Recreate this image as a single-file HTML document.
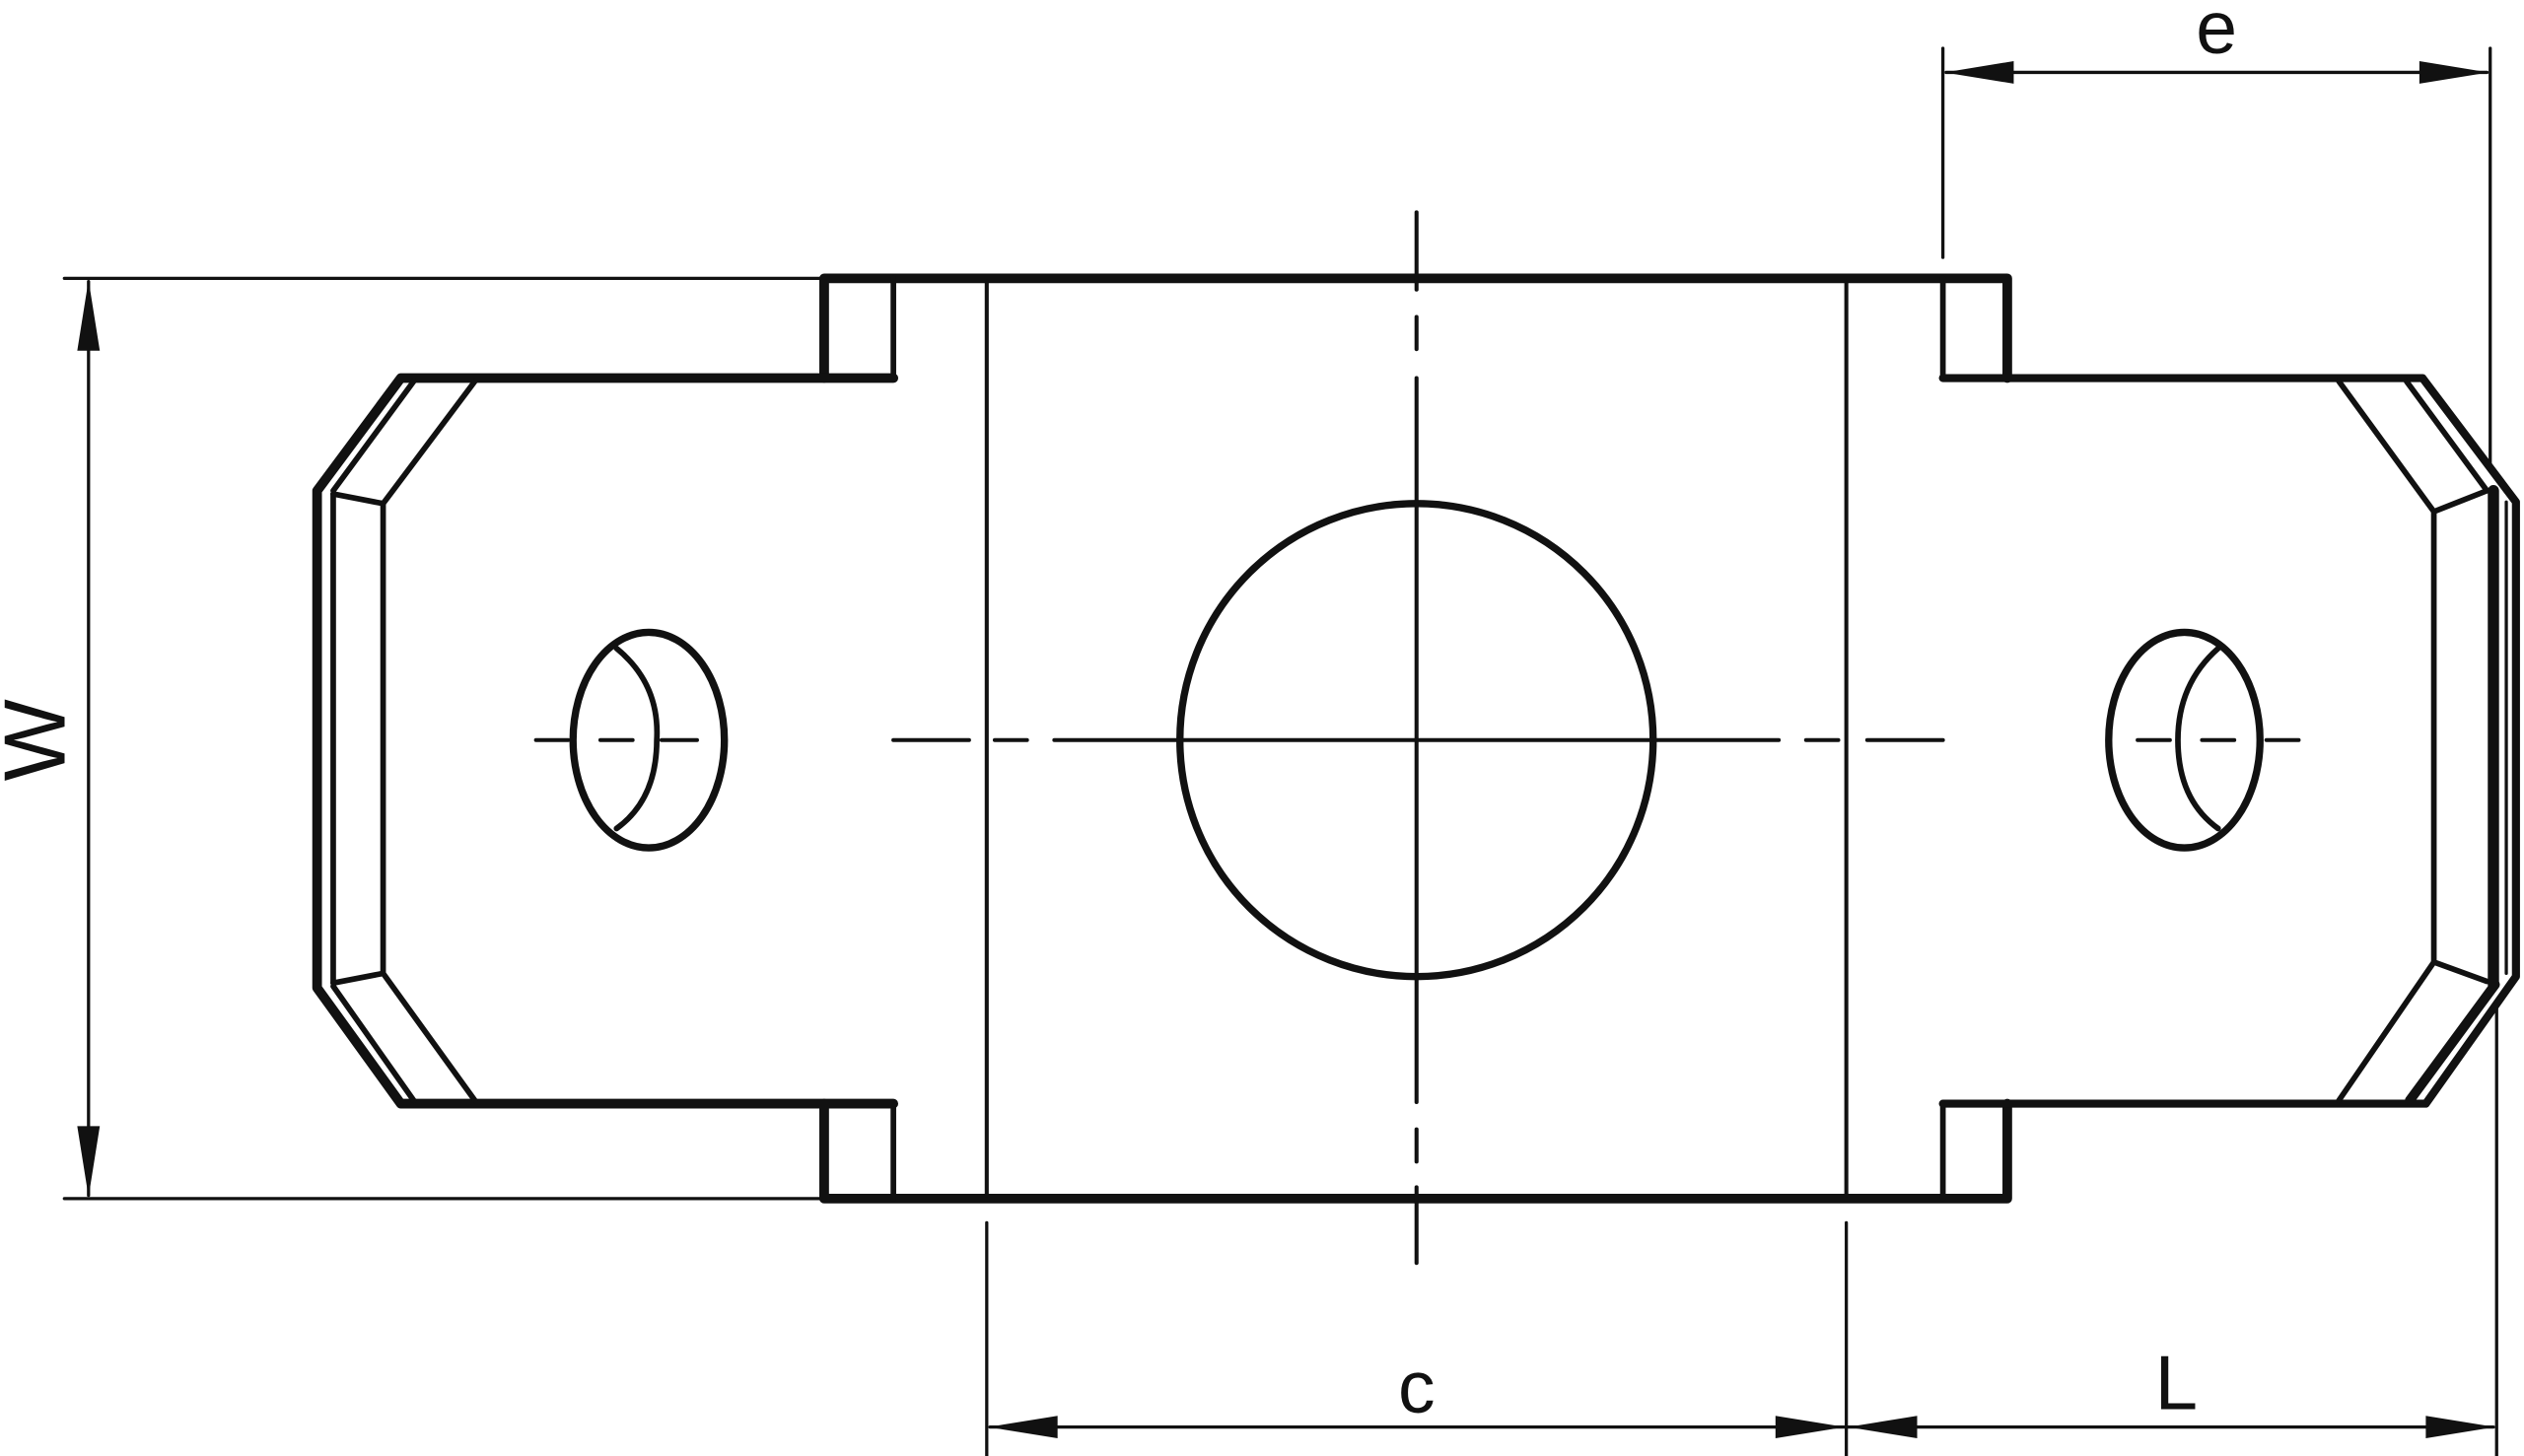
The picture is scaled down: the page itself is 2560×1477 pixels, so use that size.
<!DOCTYPE html>
<html><head><style>
html,body{margin:0;padding:0;background:#fff;}
svg{display:block;}
text{font-family:"Liberation Sans",sans-serif;fill:#111;}
</style></head><body>
<svg width="2560" height="1477" viewBox="0 0 1568 905" preserveAspectRatio="none" xmlns="http://www.w3.org/2000/svg">
<g fill="none" stroke="#111" stroke-linecap="round" stroke-linejoin="round">
<!-- W dimension -->
<line x1="40" y1="173" x2="512" y2="173" stroke-width="2"/>
<line x1="40" y1="745" x2="512" y2="745" stroke-width="2"/>
<line x1="55" y1="175" x2="55" y2="743" stroke-width="2"/>
<!-- e dimension -->
<line x1="1207" y1="30" x2="1207" y2="160" stroke-width="2"/>
<line x1="1547" y1="30" x2="1547" y2="290" stroke-width="2"/>
<line x1="1209" y1="45" x2="1545" y2="45" stroke-width="2"/>
<!-- c / L dimension -->
<line x1="613" y1="760" x2="613" y2="905" stroke-width="2"/>
<line x1="1147" y1="760" x2="1147" y2="905" stroke-width="2"/>
<line x1="1551" y1="625" x2="1551" y2="905" stroke-width="2"/>
<line x1="615" y1="887" x2="1549" y2="887" stroke-width="2"/>
<!-- main body -->
<polyline points="512,235 512,173 1247,173 1247,235" stroke-width="6"/>
<polyline points="512,686 512,745 1247,745 1247,686" stroke-width="6"/>
<polyline points="512,235 555,235 555,173" stroke-width="3.5"/>
<polyline points="512,686 555,686 555,745" stroke-width="3.5"/>
<polyline points="1247,235 1207,235 1207,173" stroke-width="3.5"/>
<polyline points="1247,686 1207,686 1207,745" stroke-width="3.5"/>
<line x1="613" y1="175" x2="613" y2="743" stroke-width="2.5"/>
<line x1="1147" y1="175" x2="1147" y2="743" stroke-width="2.5"/>
<!-- left wing -->
<polyline points="555,235 249,235 197,305 197,614 249,686 555,686" stroke-width="6"/>
<polyline points="295,237 238,313 238,605 295,684" stroke-width="3.5"/>
<line x1="207" y1="307" x2="238" y2="313" stroke-width="3.5"/>
<line x1="207" y1="611" x2="238" y2="605" stroke-width="3.5"/>
<line x1="207" y1="307" x2="207" y2="611" stroke-width="3.5"/>
<line x1="257" y1="237" x2="207" y2="305" stroke-width="3.5"/>
<line x1="257" y1="684" x2="207" y2="613" stroke-width="3.5"/>
<!-- right wing -->
<polyline points="1207,235 1505,235 1563,312 1563,607 1507,686 1207,686" stroke-width="5"/>
<line x1="1495" y1="237" x2="1545" y2="305" stroke-width="3.5"/>
<line x1="1497" y1="684" x2="1550" y2="612" stroke-width="6"/>
<polyline points="1453,237 1512,318 1512,598 1453,684" stroke-width="3.5"/>
<line x1="1512" y1="318" x2="1545" y2="305" stroke-width="3.5"/>
<line x1="1512" y1="598" x2="1545" y2="610" stroke-width="3.5"/>
<line x1="1549" y1="305" x2="1549" y2="612" stroke-width="7"/>
<line x1="1557" y1="312" x2="1557" y2="605" stroke-width="2"/>
<!-- holes -->
<circle cx="880" cy="460" r="147" stroke-width="4.5"/>
<ellipse cx="403" cy="460" rx="47" ry="67" stroke-width="4.5"/>
<path d="M383,403 Q410,425 408,460 Q408,497 383,515" stroke-width="3.5"/>
<ellipse cx="1357" cy="460" rx="47" ry="67" stroke-width="4.5"/>
<path d="M1378,403 Q1353,425 1353,460 Q1353,497 1378,515" stroke-width="3.5"/>
<!-- center lines -->
<g stroke-width="2.5">
<line x1="880" y1="132" x2="880" y2="180"/>
<line x1="880" y1="197" x2="880" y2="217"/>
<line x1="880" y1="235" x2="880" y2="685"/>
<line x1="880" y1="702" x2="880" y2="722"/>
<line x1="880" y1="738" x2="880" y2="785"/>
<line x1="333" y1="460" x2="353" y2="460"/>
<line x1="373" y1="460" x2="393" y2="460"/>
<line x1="411" y1="460" x2="433" y2="460"/>
<line x1="555" y1="460" x2="602" y2="460"/>
<line x1="618" y1="460" x2="638" y2="460"/>
<line x1="655" y1="460" x2="1105" y2="460"/>
<line x1="1122" y1="460" x2="1142" y2="460"/>
<line x1="1160" y1="460" x2="1207" y2="460"/>
<line x1="1328" y1="460" x2="1348" y2="460"/>
<line x1="1368" y1="460" x2="1388" y2="460"/>
<line x1="1408" y1="460" x2="1428" y2="460"/>
</g>
</g>
<!-- arrowheads -->
<g fill="#111">
<polygon points="55,174 48,218 62,218"/>
<polygon points="55,744 48,700 62,700"/>
<polygon points="1208,45 1251,38 1251,52"/>
<polygon points="1546,45 1503,38 1503,52"/>
<polygon points="614,887 657,880 657,894"/>
<polygon points="1146,887 1103,880 1103,894"/>
<polygon points="1148,887 1191,880 1191,894"/>
<polygon points="1550,887 1507,880 1507,894"/>
</g>
<text x="1377" y="33" font-size="46" text-anchor="middle">e</text>
<text x="880" y="878" font-size="46" text-anchor="middle">c</text>
<text x="1352" y="876" font-size="48" text-anchor="middle">L</text>
<text x="0" y="0" font-size="54" text-anchor="middle" transform="translate(40,460) rotate(-90)">W</text>
</svg>
</body></html>
